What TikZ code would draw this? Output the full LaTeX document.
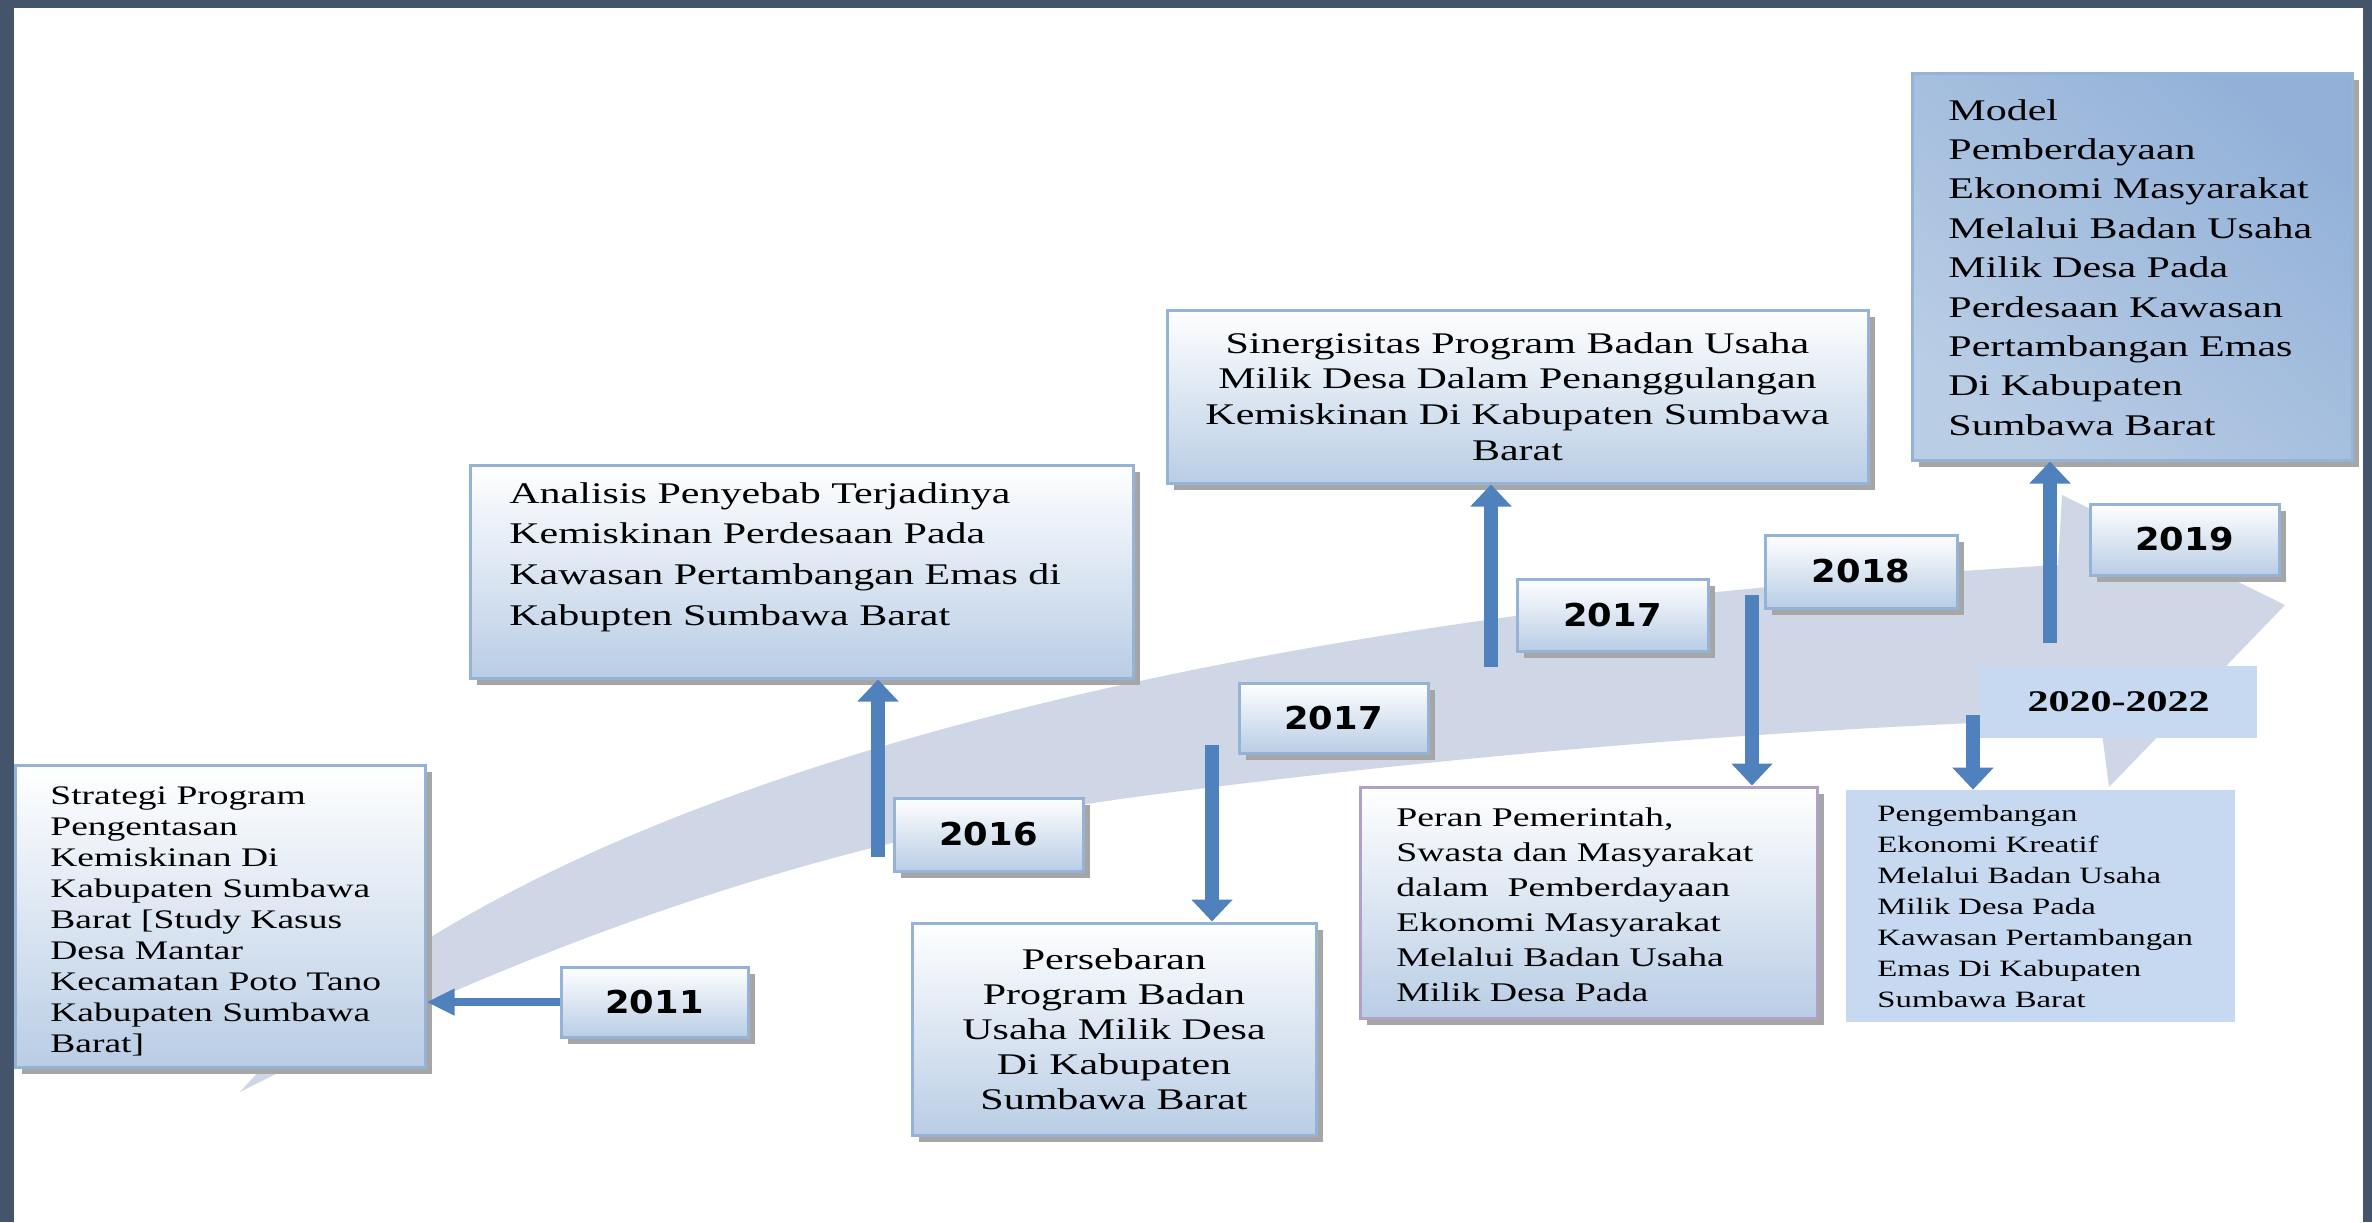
\documentclass[tikz,border=0pt]{standalone}
\usepackage{fontspec}
\usepackage{tikz}
\usetikzlibrary{arrows.meta,shadows}

\newfontfamily\boxfont[FakeStretch=1.4]{Liberation Serif}
\newfontfamily\yearfont[FakeStretch=1.12]{DejaVu Sans}

\definecolor{framedark}{HTML}{44546A}
\definecolor{bandgray}{HTML}{CFD6E6}
\definecolor{boxline}{HTML}{95B3D7}
\definecolor{boxfill}{HTML}{B9CDE5}
\definecolor{flatfill}{HTML}{C6D9F1}
\definecolor{arrowblue}{HTML}{4F81BD}
\definecolor{peranline}{HTML}{B2A1C7}
\definecolor{shadowgray}{HTML}{A6A6A6}
\definecolor{modeldark}{HTML}{93B1D8}
\definecolor{modellight}{HTML}{EDF2F9}

\begin{document}
\begin{tikzpicture}[x=0.5pt,y=-0.5pt]
\tikzstyle{shadowed}=[general shadow={fill=shadowgray,shadow xshift=3.5pt,shadow yshift=-3.5pt}]
\tikzstyle{box}=[rectangle,draw=boxline,line width=1.5pt,top color=white,bottom color=boxfill,shadowed]
\tikzstyle{flatbox}=[rectangle,fill=flatfill]
\tikzstyle{yearbox}=[box,font=\yearfont\bfseries\fontsize{15.75pt}{18pt}\selectfont]
\tikzstyle{txt}=[inner sep=0pt,align=left,anchor=west]
\tikzstyle{vline}=[draw=arrowblue,line width=7pt,-{Triangle[width=20pt,length=11pt]}]
\tikzstyle{hline}=[draw=arrowblue,line width=4pt,-{Triangle[width=12.5pt,length=14pt]}]
\useasboundingbox (0,0) rectangle (2372,1222);
% frame
\fill[framedark] (0,0) rectangle (2372,1222);
\fill[white] (14,8) rectangle (2363,1222);
% curved band
\fill[bandgray] (240,1092) .. controls (480,820) and (1100,620) .. (2058,565)
  -- (2062,495) -- (2285,605) -- (2109,787) -- (2100,718)
  .. controls (1800,728) and (1500,750) .. (1150,795)
  .. controls (800,840) and (500,960) .. (240,1092) -- cycle;
% topic boxes
\node[box,minimum width=205pt,minimum height=151pt] (strategi) at (220,916) {};
\node[box,minimum width=331.5pt,minimum height=106.5pt] (analisis) at (801.5,571.5) {};
\node[box,minimum width=202pt,minimum height=106pt,align=center,
  font=\boxfont\fontsize{15pt}{17.5pt}\selectfont] (persebaran) at (1114,1029)
  {Persebaran\\Program Badan\\Usaha Milik Desa\\Di Kabupaten\\Sumbawa Barat};
\node[box,minimum width=350.5pt,minimum height=86.5pt,align=center,
  font=\boxfont\fontsize{15pt}{17.9pt}\selectfont] (sinergi) at (1517.5,396.5)
  {Sinergisitas Program Badan Usaha\\Milik Desa Dalam Penanggulangan\\Kemiskinan Di Kabupaten Sumbawa\\Barat};
\node[box,fill=flatfill,draw=peranline,minimum width=228.5pt,minimum height=115.5pt] (peran) at (1588.5,902.5) {};
\node[box,top color=modeldark,middle color=modellight,bottom color=boxfill,shading angle=-40,
  minimum width=220pt,minimum height=193.5pt] (model) at (2132,266.5) {};
\node[flatbox,minimum width=194.5pt,minimum height=116pt] (pengembangan) at (2040.5,906) {};
% year boxes
\node[yearbox,minimum width=93.5pt,minimum height=35pt] (y2011) at (654.5,1002) {2011};
\node[yearbox,minimum width=94.5pt,minimum height=36.5pt] (y2016) at (988.5,834.5) {2016};
\node[yearbox,minimum width=94.5pt,minimum height=35pt] (y2017a) at (1333.5,718) {2017};
\node[yearbox,minimum width=95.5pt,minimum height=36pt] (y2017b) at (1612.5,615) {2017};
\node[yearbox,minimum width=96pt,minimum height=36.5pt] (y2018) at (1861,571.5) {2018};
\node[yearbox,minimum width=94.5pt,minimum height=35.5pt] (y2019) at (2184.5,539.5) {2019};
\node[flatbox,minimum width=138.5pt,minimum height=36pt,
  font=\boxfont\bfseries\fontsize{15pt}{18pt}\selectfont] (y2020) at (2118.5,702) {2020-2022};
% arrows
\coordinate (a2016) at (878,857);
\coordinate (a2017a) at (1212,745);
\coordinate (a2017b) at (1491,667);
\coordinate (a2018) at (1752,595);
\coordinate (a2019) at (2050,643);
\coordinate (a2020) at (1973,715);
\draw[hline] (y2011.west) -- (strategi.east |- y2011.west);
\draw[vline] (a2016) -- (a2016 |- analisis.south);
\draw[vline] (a2017a) -- (a2017a |- persebaran.north);
\draw[vline] (a2017b) -- (a2017b |- sinergi.south);
\draw[vline] (a2018) -- (a2018 |- peran.north);
\draw[vline] (a2019) -- (a2019 |- model.south);
\draw[vline] (a2020) -- (a2020 |- pengembangan.north);
% texts
\node[txt,font=\boxfont\fontsize{13.4pt}{15.5pt}\selectfont] (strategi-t) at (50,921)
  {Strategi Program\\Pengentasan\\Kemiskinan Di\\Kabupaten Sumbawa\\Barat [Study Kasus\\Desa Mantar\\Kecamatan Poto Tano\\Kabupaten Sumbawa\\Barat]};
\node[txt,font=\boxfont\fontsize{15pt}{20.3pt}\selectfont] (analisis-t) at (509,557)
  {Analisis Penyebab Terjadinya\\Kemiskinan Perdesaan Pada\\Kawasan Pertambangan Emas di\\Kabupten Sumbawa Barat};
\node[txt,font=\boxfont\fontsize{13.5pt}{17.5pt}\selectfont] (peran-t) at (1396,905)
  {Peran Pemerintah,\\Swasta dan Masyarakat\\dalam\ \ Pemberdayaan\\Ekonomi Masyarakat\\Melalui Badan Usaha\\Milik Desa Pada};
\node[txt,font=\boxfont\fontsize{15pt}{19.7pt}\selectfont] (model-t) at (1948,267.5)
  {Model\\Pemberdayaan\\Ekonomi Masyarakat\\Melalui Badan Usaha\\Milik Desa Pada\\Perdesaan Kawasan\\Pertambangan Emas\\Di Kabupaten\\Sumbawa Barat};
\node[txt,font=\boxfont\fontsize{11.7pt}{15.5pt}\selectfont] (pengembangan-t) at (1877,906.5)
  {Pengembangan\\Ekonomi Kreatif\\Melalui Badan Usaha\\Milik Desa Pada\\Kawasan Pertambangan\\Emas Di Kabupaten\\Sumbawa Barat};
\end{tikzpicture}
\end{document}
